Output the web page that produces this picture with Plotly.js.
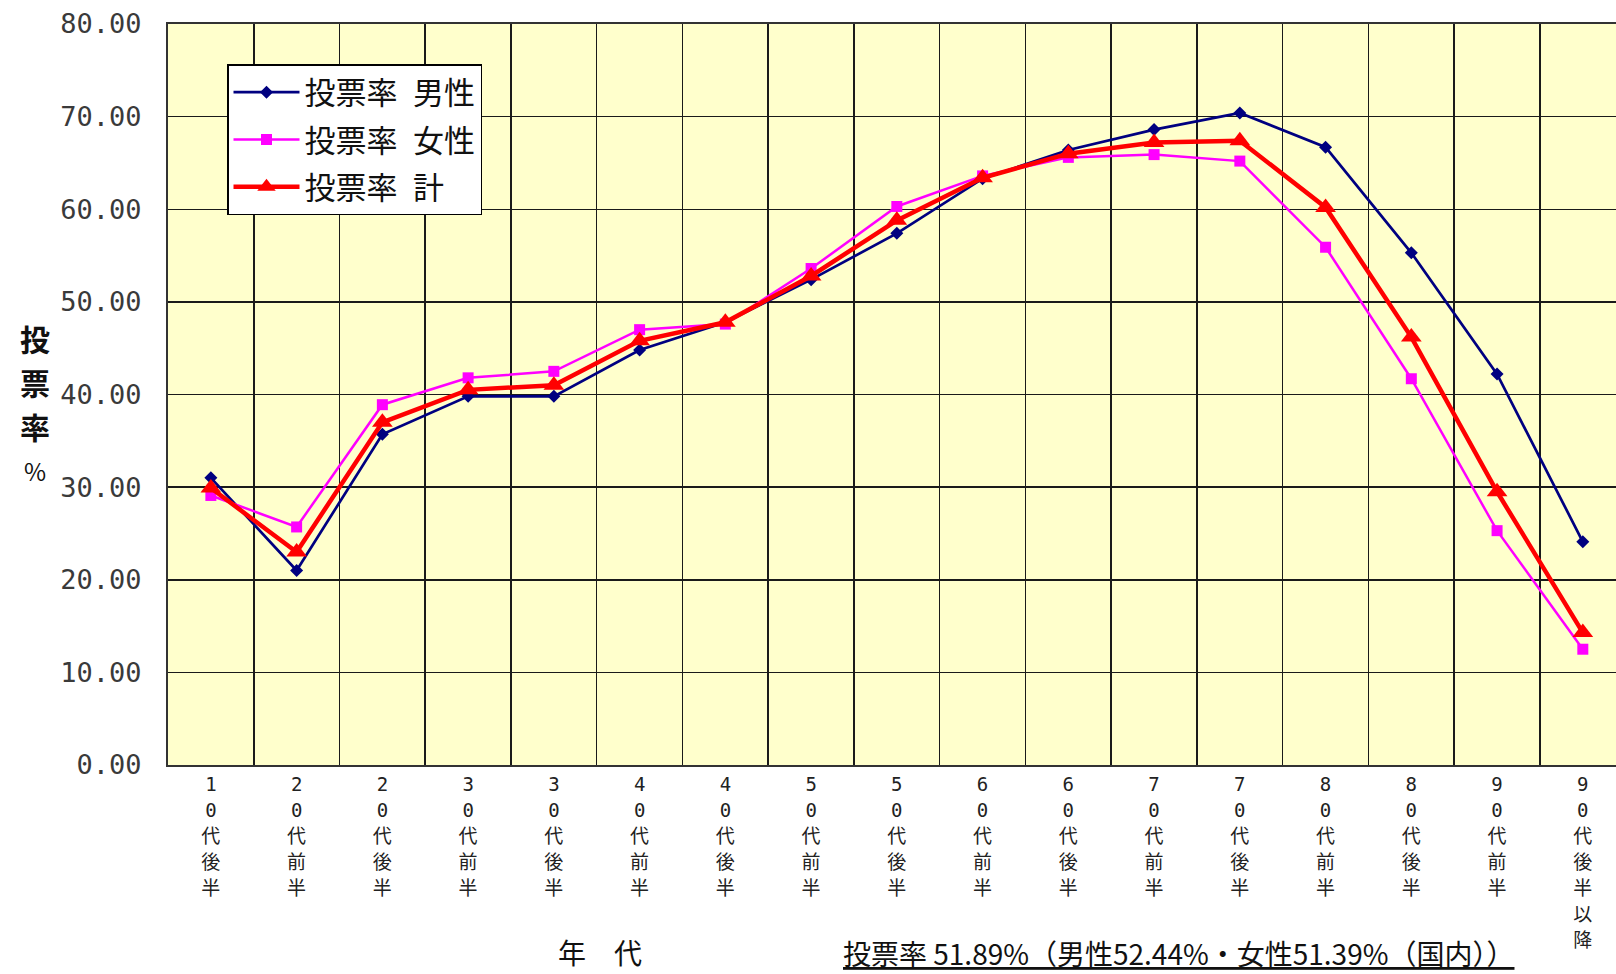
<!DOCTYPE html>
<html>
<head>
<meta charset="utf-8">
<script src="https://cdn.plot.ly/plotly-3.0.1.min.js"></script>
<style>html,body{margin:0;padding:0;background:#fff;}#chart{width:1616px;height:974px;}</style>
</head>
<body>
<div id="chart"></div>
<script>
// ---- data ----
const categories = ['10代後半','20代前半','20代後半','30代前半','30代後半','40代前半','40代後半','50代前半','50代後半','60代前半','60代後半','70代前半','70代後半','80代前半','80代後半','90代前半','90代後半以降'];
const male   = [31.0, 21.0, 35.7, 39.8, 39.8, 44.8, 47.8, 52.4, 57.4, 63.3, 66.4, 68.6, 70.4, 66.7, 55.3, 42.2, 24.1];
const female = [29.1, 25.7, 38.9, 41.8, 42.5, 47.0, 47.6, 53.6, 60.3, 63.6, 65.6, 65.9, 65.2, 55.9, 41.7, 25.3, 12.5];
const total  = [29.9, 23.0, 37.0, 40.5, 41.0, 45.8, 47.8, 52.8, 58.8, 63.4, 66.0, 67.2, 67.4, 60.2, 46.2, 29.5, 14.3];
const seriesNames = ['投票率\u2002男性', '投票率\u2002女性', '投票率\u2002計'];
const yTicks = [0, 10, 20, 30, 40, 50, 60, 70, 80];
const yTitleChars = ['投', '票', '率', '%'];
const xTitle = '年\u3000代';
const noteText = '投票率 51.89%（男性52.44%・女性51.39%（国内））';

// ---- layout helpers ----
const W = 1616, H = 974;
const L = 168, T = 24, B = 209, R = 0;
const pw = W - L - R, ph = H - T - B;
const px = x => (x - L) / pw;
const py = y => (H - B - y) / ph;

const jp = '"Noto Sans CJK JP", "Noto Sans", sans-serif';
const tickText = categories.map(c => Array.from(c).map(ch => '<span style="font-size:19px">' + ch + '</span>').join('<br>'));

const traces = [
  {x: categories, y: male, name: seriesNames[0], type: 'scatter', mode: 'lines+markers',
   line: {color: '#000080', width: 2.7}, marker: {symbol: 'diamond', size: 10, color: '#000080'}, legendgroup: 'a'},
  {x: categories, y: female, name: seriesNames[1], type: 'scatter', mode: 'lines+markers',
   line: {color: '#FF00FF', width: 2.5}, marker: {symbol: 'square', size: 11, color: '#FF00FF'}, legendgroup: 'b'},
  {x: categories, y: total, name: seriesNames[2], type: 'scatter', mode: 'lines+markers',
   line: {color: '#FF0000', width: 4.5}, marker: {symbol: 'triangle-up', size: 18, color: '#FF0000'}, legendgroup: 'c'}
];

const yTitleY = [338, 382, 426, 470];
const yTitleAnn = yTitleChars.map((c, i) => ({
  xref: 'paper', yref: 'paper', x: px(35), y: py(yTitleY[i]), xanchor: 'center', yanchor: 'middle', showarrow: false,
  text: i < 3 ? '<b>' + c + '</b>' : c,
  font: {family: jp, size: i < 3 ? 30 : 24, color: '#111'}
}));

const layout = {
  width: W, height: H,
  margin: {l: L, r: R, t: T, b: B, pad: 0},
  paper_bgcolor: '#FFFFFF',
  plot_bgcolor: '#FFFFCC',
  font: {family: jp, color: '#111'},
  showlegend: true,
  legend: {
    x: px(227), y: py(64), xanchor: 'left', yanchor: 'top',
    bgcolor: '#FFFFFF', bordercolor: '#000', borderwidth: 1.5,
    font: {family: jp, size: 31, color: '#111'},
    itemwidth: 66,
    tracegroupgap: 4, traceorder: 'grouped'
  },
  xaxis: {
    type: 'category',
    range: [-0.5, 16.387],
    tickmode: 'array', tickvals: categories, ticktext: tickText,
    tickson: 'boundaries',
    ticks: '', showgrid: true, gridcolor: '#1a1a1a', gridwidth: 1.5,
    showline: true, linecolor: '#333', linewidth: 2, mirror: true,
    tickfont: {family: '"DejaVu Sans Mono", "Noto Sans CJK JP", monospace', size: 20, color: '#222'},
    tickangle: 0,
    fixedrange: true
  },
  yaxis: {
    range: [0, 80],
    tickmode: 'array', tickvals: yTicks,
    tickformat: '.2f',
    ticks: '', showgrid: true, gridcolor: '#1a1a1a', gridwidth: 1.5,
    zeroline: false,
    showline: true, linecolor: '#333', linewidth: 2,
    ticklabelstandoff: 19,
    tickfont: {family: '"DejaVu Sans Mono", monospace', size: 27, color: '#3a3a3a'},
    fixedrange: true
  },
  annotations: yTitleAnn.concat([
    {xref: 'paper', yref: 'paper', x: px(600), y: py(952), xanchor: 'center', yanchor: 'middle', showarrow: false,
     text: xTitle, font: {family: jp, size: 28, color: '#111'}},
    {xref: 'paper', yref: 'paper', x: px(1178), y: py(953), xanchor: 'center', yanchor: 'middle', showarrow: false,
     text: '<u>' + noteText + '</u>', font: {family: jp, size: 28, color: '#111'}}
  ])
};

Plotly.newPlot('chart', traces, layout, {displayModeBar: false, staticPlot: true});
</script>
</body>
</html>
